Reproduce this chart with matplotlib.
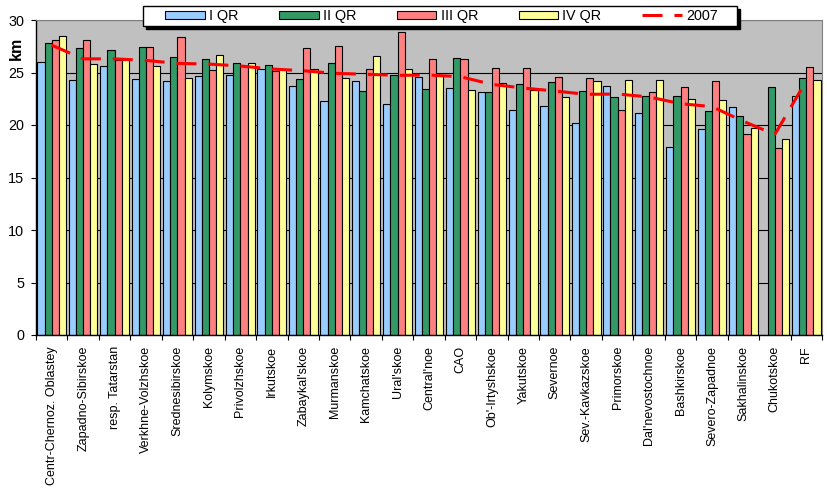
import numpy as np
import matplotlib
matplotlib.use('Agg')
import matplotlib.pyplot as plt
from matplotlib.patches import Patch, Rectangle
from matplotlib.lines import Line2D

plt.rcParams['font.family'] = ['Liberation Sans', 'DejaVu Sans']

regions = ["Centr-Chernoz. Oblastey", "Zapadno-Sibirskoe", "resp. Tatarstan",
           "Verkhne-Volzhskoe", "Srednesibirskoe", "Kolymskoe", "Privolzhskoe",
           "Irkutskoe", "Zabaykal'skoe", "Murmanskoe", "Kamchatskoe", "Ural'skoe",
           "Central'noe", "CAO", "Ob'-Irtyshskoe", "Yakutskoe", "Severnoe",
           "Sev.-Kavkazskoe", "Primorskoe", "Dal'nevostochnoe", "Bashkirskoe",
           "Severo-Zapadnoe", "Sakhalinskoe", "Chukotskoe", "RF"]

q1 = [26.0, 24.3, 25.6, 24.4, 24.2, 24.7, 24.8, 25.3, 23.7, 22.3, 24.2, 22.0, 24.6,
      23.5, 23.1, 21.4, 21.8, 20.2, 23.7, 21.1, 17.9, 19.6, 21.7, np.nan, 22.8]
q2 = [27.8, 27.3, 27.1, 27.4, 26.5, 26.3, 25.9, 25.7, 24.4, 25.9, 23.2, 24.8, 23.4,
      26.4, 23.1, 23.9, 24.1, 23.2, 22.7, 22.8, 22.8, 21.3, 20.9, 23.6, 24.5]
q3 = [28.1, 28.1, 26.2, 27.4, 28.4, 25.2, 25.6, 25.1, 27.3, 27.5, 25.3, 28.9, 26.3,
      26.3, 25.4, 25.4, 24.6, 24.5, 21.4, 23.1, 23.6, 24.2, 19.1, 17.8, 25.5]
q4 = [28.5, 25.8, 26.2, 25.6, 24.5, 26.7, 25.9, 25.3, 25.3, 24.5, 26.6, 25.3, 24.7,
      23.3, 24.0, 23.3, 22.7, 24.2, 24.3, 24.3, 22.5, 22.4, 19.7, 18.7, 24.3]
y2007 = [27.6, 26.3, 26.3, 26.15, 25.87, 25.8, 25.62, 25.33, 25.17, 24.92, 24.83,
         24.73, 24.76, 24.6, 23.87, 23.52, 23.24, 22.92, 22.95, 22.67, 22.03, 21.75,
         20.35, 19.1, 24.2]

labels = ['I QR', 'II QR', 'III QR', 'IV QR']
colors = ['#99CCFF', '#339966', '#FF8080', '#FFFF99']

W, H = 828, 491
fig = plt.figure(figsize=(W / 100, H / 100), dpi=100)
ax = fig.add_axes([36 / W, 1 - 335 / H, 786 / W, 315 / H])
ax.set_facecolor('#C0C0C0')

x = np.arange(len(regions))
w = 0.228
for i, vals in enumerate([q1, q2, q3, q4]):
    ax.bar(x + (i - 1.5) * w, vals, w, color=colors[i], edgecolor='black',
           linewidth=0.8, zorder=2)

lw = 2.2
dash = (0, (14.4 / lw, 8.6 / lw))
ax.plot(x, y2007, color='#FF0000', lw=lw, ls=dash, zorder=3)

ax.set_xlim(-0.5, len(regions) - 0.5)
ax.set_ylim(0, 30)
ax.set_yticks(np.arange(0, 31, 5))
ax.yaxis.grid(True, color='black', lw=0.8)
ax.set_axisbelow(True)
ax.tick_params(axis='y', direction='out', length=3.6, width=0.8, labelsize=10.4, pad=5)

ax.set_xticks(x)
ax.set_xticklabels(regions, rotation=90, fontsize=9)
ax.tick_params(axis='x', which='major', length=0, pad=8)
ax.set_xticks(np.arange(-0.5, len(regions), 1), minor=True)
ax.tick_params(axis='x', which='minor', direction='out', length=3.6, width=0.8)

for s in ['top', 'right']:
    ax.spines[s].set_color('#808080')
for s in ['left', 'bottom']:
    ax.spines[s].set_color('black')
    ax.spines[s].set_linewidth(1.0)

ax.set_ylabel('km', fontsize=11.5, fontweight='bold')
ax.yaxis.set_label_coords(-0.015, 0.91)

##### LEGEND #####
# frame with hard black shadow, drawn by hand
bx0, by0, bx1, by1 = 143, 6, 737, 26
fig.patches.append(Rectangle(((bx0 + 3) / W, 1 - (by1 + 3) / H), (bx1 - bx0) / W,
                             (by1 - by0) / H, transform=fig.transFigure,
                             facecolor='black', edgecolor='black', zorder=1))
fig.patches.append(Rectangle((bx0 / W, 1 - by1 / H), (bx1 - bx0) / W,
                             (by1 - by0) / H, transform=fig.transFigure,
                             facecolor='white', edgecolor='black', lw=1.0, zorder=2))

handles = [Patch(facecolor=colors[i], edgecolor='black', lw=0.8, label=labels[i])
           for i in range(4)]
handles.append(Line2D([0], [0], color='#FF0000', lw=lw, ls=dash, label='2007'))
leg = fig.legend(handles=handles, ncol=5, loc='center left',
                 bbox_to_anchor=(165 / W, 1 - 16 / H),
                 bbox_transform=fig.transFigure, borderaxespad=0, borderpad=0,
                 fontsize=10.4, handlelength=2.75, handleheight=0.55,
                 handletextpad=0.28, columnspacing=2.82, frameon=False)
leg.set_zorder(5)

fig.savefig('out.png', dpi=100)
